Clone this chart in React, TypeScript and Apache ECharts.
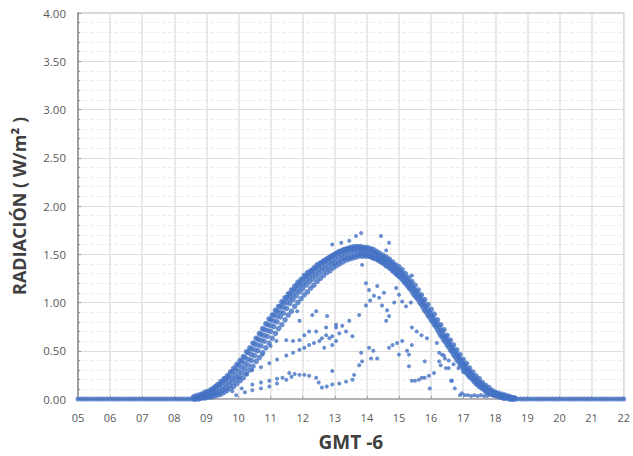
import React, { useEffect, useRef } from "react";
import * as echarts from "echarts";

// ---- Data (hour of day GMT-6, radiation) ----
const xTicks = { min: 5, max: 22, step: 1 };
const yTicks = { min: 0, max: 4, step: 0.5 };

const clearHours = [
  8.6, 8.7, 8.8, 8.9,
  9.0, 9.1, 9.2, 9.3, 9.4, 9.5, 9.6, 9.7, 9.8, 9.9,
  10.0, 10.1, 10.2, 10.3, 10.4, 10.5, 10.6, 10.7, 10.8, 10.9,
  11.0, 11.1, 11.2, 11.3, 11.4, 11.5, 11.6, 11.7, 11.8, 11.9,
  12.0, 12.1, 12.2, 12.3, 12.4, 12.5, 12.6, 12.7, 12.8, 12.9,
  13.0, 13.1, 13.2, 13.3, 13.4, 13.5, 13.6, 13.7, 13.8, 13.9,
  14.0, 14.1, 14.2, 14.3, 14.4, 14.5, 14.6, 14.7, 14.8, 14.9,
  15.0, 15.1, 15.2, 15.3, 15.4, 15.5, 15.6, 15.7, 15.8, 15.9,
  16.0, 16.1, 16.2, 16.3, 16.4, 16.5, 16.6, 16.7, 16.8, 16.9,
  17.0, 17.1, 17.2, 17.3, 17.4, 17.5, 17.6, 17.7, 17.8, 17.9,
  18.0, 18.1, 18.2, 18.3, 18.4, 18.5, 18.6,
];

const clearDayA = [
  0.02, 0.02, 0.03, 0.05,
  0.06, 0.08, 0.10, 0.13, 0.15, 0.18, 0.21, 0.24, 0.28, 0.31,
  0.35, 0.39, 0.43, 0.48, 0.52, 0.57, 0.62, 0.67, 0.72, 0.77,
  0.82, 0.87, 0.91, 0.96, 1.00, 1.05, 1.09, 1.13, 1.17, 1.20,
  1.24, 1.27, 1.30, 1.33, 1.36, 1.39, 1.41, 1.44, 1.46, 1.48,
  1.50, 1.52, 1.53, 1.55, 1.56, 1.57, 1.58, 1.58, 1.58, 1.57,
  1.57, 1.56, 1.55, 1.53, 1.51, 1.49, 1.47, 1.45, 1.42, 1.39,
  1.37, 1.34, 1.30, 1.26, 1.22, 1.18, 1.13, 1.08, 1.03, 0.98,
  0.93, 0.88, 0.82, 0.77, 0.72, 0.66, 0.61, 0.56, 0.51, 0.46,
  0.41, 0.37, 0.32, 0.28, 0.24, 0.21, 0.17, 0.14, 0.12, 0.09,
  0.07, 0.06, 0.05, 0.04, 0.03, 0.02, 0.01,
];

const clearDayB = [
  0.01, 0.01, 0.02, 0.03,
  0.04, 0.05, 0.07, 0.09, 0.11, 0.13, 0.16, 0.19, 0.22, 0.25,
  0.29, 0.33, 0.37, 0.41, 0.46, 0.51, 0.56, 0.61, 0.66, 0.71,
  0.76, 0.81, 0.86, 0.90, 0.95, 1.00, 1.04, 1.08, 1.12, 1.16,
  1.19, 1.23, 1.26, 1.29, 1.32, 1.35, 1.37, 1.40, 1.42, 1.44,
  1.46, 1.48, 1.49, 1.51, 1.52, 1.53, 1.54, 1.54, 1.54, 1.54,
  1.53, 1.52, 1.51, 1.49, 1.47, 1.45, 1.43, 1.41, 1.38, 1.35,
  1.32, 1.29, 1.25, 1.21, 1.17, 1.12, 1.08, 1.03, 0.97, 0.92,
  0.87, 0.82, 0.77, 0.71, 0.66, 0.61, 0.56, 0.51, 0.46, 0.41,
  0.36, 0.32, 0.28, 0.24, 0.20, 0.17, 0.14, 0.11, 0.09, 0.07,
  0.06, 0.04, 0.03, 0.03, 0.02, 0.01, 0.01,
];

const clearDayC = [
  0.00, 0.01, 0.01, 0.02,
  0.02, 0.03, 0.04, 0.06, 0.07, 0.09, 0.11, 0.14, 0.17, 0.20,
  0.23, 0.27, 0.31, 0.35, 0.40, 0.45, 0.50, 0.55, 0.60, 0.65,
  0.70, 0.75, 0.80, 0.85, 0.89, 0.94, 0.99, 1.03, 1.07, 1.11,
  1.14, 1.18, 1.21, 1.24, 1.27, 1.30, 1.33, 1.35, 1.37, 1.40,
  1.41, 1.43, 1.45, 1.46, 1.47, 1.48, 1.49, 1.50, 1.50, 1.50,
  1.49, 1.48, 1.46, 1.45, 1.43, 1.41, 1.38, 1.36, 1.33, 1.30,
  1.27, 1.24, 1.20, 1.16, 1.12, 1.07, 1.03, 0.98, 0.92, 0.87,
  0.82, 0.77, 0.72, 0.66, 0.61, 0.56, 0.51, 0.46, 0.41, 0.36,
  0.31, 0.27, 0.23, 0.20, 0.16, 0.13, 0.11, 0.08, 0.06, 0.05,
  0.04, 0.03, 0.02, 0.01, 0.01, 0.00, 0.00,
];

// second set of clear days, sampled between the first set's times
const clearHoursHalf = [
  8.65, 8.75, 8.85, 8.95,
  9.05, 9.15, 9.25, 9.35, 9.45, 9.55, 9.65, 9.75, 9.85, 9.95,
  10.05, 10.15, 10.25, 10.35, 10.45, 10.55, 10.65, 10.75, 10.85, 10.95,
  11.05, 11.15, 11.25, 11.35, 11.45, 11.55, 11.65, 11.75, 11.85, 11.95,
  12.05, 12.15, 12.25, 12.35, 12.45, 12.55, 12.65, 12.75, 12.85, 12.95,
  13.05, 13.15, 13.25, 13.35, 13.45, 13.55, 13.65, 13.75, 13.85, 13.95,
  14.05, 14.15, 14.25, 14.35, 14.45, 14.55, 14.65, 14.75, 14.85, 14.95,
  15.05, 15.15, 15.25, 15.35, 15.45, 15.55, 15.65, 15.75, 15.85, 15.95,
  16.05, 16.15, 16.25, 16.35, 16.45, 16.55, 16.65, 16.75, 16.85, 16.95,
  17.05, 17.15, 17.25, 17.35, 17.45, 17.55, 17.65, 17.75, 17.85, 17.95,
  18.05, 18.15, 18.25, 18.35, 18.45, 18.55,
];

const clearDayD = [
  0.03, 0.04, 0.05, 0.07,
  0.08, 0.10, 0.12, 0.15, 0.18, 0.21, 0.24, 0.28, 0.32, 0.36,
  0.40, 0.44, 0.49, 0.53, 0.58, 0.63, 0.68, 0.73, 0.78, 0.83,
  0.87, 0.92, 0.96, 1.01, 1.05, 1.09, 1.13, 1.17, 1.21, 1.24,
  1.28, 1.31, 1.33, 1.36, 1.39, 1.41, 1.43, 1.45, 1.47, 1.49,
  1.51, 1.53, 1.54, 1.55, 1.56, 1.56, 1.57, 1.57, 1.56, 1.56,
  1.55, 1.54, 1.52, 1.50, 1.48, 1.46, 1.44, 1.41, 1.38, 1.35,
  1.32, 1.28, 1.24, 1.20, 1.15, 1.11, 1.06, 1.01, 0.96, 0.90,
  0.85, 0.80, 0.75, 0.70, 0.64, 0.59, 0.54, 0.49, 0.44, 0.39,
  0.35, 0.30, 0.26, 0.22, 0.19, 0.16, 0.13, 0.10, 0.08, 0.06,
  0.05, 0.04, 0.03, 0.02, 0.01, 0.01,
];

const clearDayE = [
  0.00, 0.00, 0.01, 0.01,
  0.02, 0.02, 0.03, 0.04, 0.05, 0.07, 0.09, 0.11, 0.13, 0.16,
  0.19, 0.22, 0.26, 0.30, 0.34, 0.39, 0.43, 0.48, 0.53, 0.58,
  0.63, 0.68, 0.73, 0.77, 0.82, 0.87, 0.91, 0.96, 1.00, 1.04,
  1.08, 1.11, 1.15, 1.18, 1.22, 1.25, 1.28, 1.31, 1.33, 1.36,
  1.38, 1.40, 1.42, 1.44, 1.45, 1.46, 1.47, 1.48, 1.48, 1.48,
  1.48, 1.47, 1.46, 1.44, 1.42, 1.40, 1.38, 1.35, 1.32, 1.29,
  1.26, 1.22, 1.18, 1.14, 1.09, 1.05, 1.00, 0.95, 0.90, 0.85,
  0.80, 0.75, 0.69, 0.64, 0.59, 0.54, 0.49, 0.44, 0.39, 0.34,
  0.30, 0.26, 0.22, 0.18, 0.15, 0.12, 0.10, 0.07, 0.05, 0.04,
  0.03, 0.02, 0.01, 0.01, 0.00, 0.00,
];

const nightHours = [
  5.0, 5.1, 5.2, 5.3, 5.4, 5.5, 5.6, 5.7, 5.8, 5.9,
  6.0, 6.1, 6.2, 6.3, 6.4, 6.5, 6.6, 6.7, 6.8, 6.9,
  7.0, 7.1, 7.2, 7.3, 7.4, 7.5, 7.6, 7.7, 7.8, 7.9,
  8.0, 8.1, 8.2, 8.3, 8.4, 8.5,
  18.7, 18.8, 18.9,
  19.0, 19.1, 19.2, 19.3, 19.4, 19.5, 19.6, 19.7, 19.8, 19.9,
  20.0, 20.1, 20.2, 20.3, 20.4, 20.5, 20.6, 20.7, 20.8, 20.9,
  21.0, 21.1, 21.2, 21.3, 21.4, 21.5, 21.6, 21.7, 21.8, 21.9,
  22.0,
];
const nightValue = 0;

const cloudyLowA = [
  [9.81, 0.08], [10.1, 0.11], [10.43, 0.15], [10.7, 0.17], [10.96, 0.19],
  [11.2, 0.21], [11.37, 0.22], [11.58, 0.27], [11.75, 0.26], [11.9, 0.25],
  [12.05, 0.25], [12.2, 0.24], [12.42, 0.22], [12.5, 0.17], [12.6, 0.12],
  [12.75, 0.13], [12.92, 0.15], [13.14, 0.16], [13.35, 0.18], [13.55, 0.2],
  [13.6, 0.25],
];
const cloudyLowB = [
  [9.93, 0.04], [10.2, 0.07], [10.43, 0.09], [10.7, 0.11], [10.96, 0.13],
  [11.2, 0.16], [11.49, 0.2], [11.65, 0.23], [12.92, 0.29],
];
const cloudyMid = [
  [10.03, 0.22], [10.25, 0.26], [10.43, 0.3], [10.7, 0.33], [10.96, 0.37],
  [11.2, 0.41], [11.49, 0.45], [11.7, 0.48], [11.9, 0.51], [12.05, 0.53],
  [12.2, 0.56], [12.35, 0.58], [12.52, 0.6], [12.67, 0.53], [12.83, 0.63],
  [12.92, 0.56], [13.04, 0.6],
];
const cloudyUpperNoon = [
  [10.75, 0.46], [11.0, 0.55], [11.18, 0.6], [11.49, 0.61], [11.7, 0.6],
  [11.9, 0.61], [12.05, 0.66], [12.2, 0.7], [12.42, 0.7], [12.6, 0.63],
  [12.73, 0.66], [12.92, 0.65], [13.04, 0.77], [13.14, 0.68], [13.23, 0.76],
  [13.35, 0.7], [13.55, 0.65], [13.45, 0.81], [13.76, 0.87], [12.76, 0.86],
  [12.73, 0.74], [13.04, 0.74], [11.83, 0.91], [11.9, 0.81], [12.42, 0.91],
  [12.3, 0.87],
];
const aboveEnvelope = [
  [12.92, 1.6], [13.2, 1.62], [13.45, 1.64], [13.66, 1.69], [13.82, 1.72],
  [14.44, 1.69], [14.69, 1.62], [14.6, 1.54], [13.85, 1.39], [15.4, 1.28],
];
const cloudyAfternoon = [
  [13.97, 1.2], [14.32, 1.17], [14.07, 1.13], [14.22, 1.07], [14.38, 1.05],
  [13.97, 0.97], [14.47, 0.97], [14.63, 0.92], [14.69, 0.86], [14.6, 0.81],
  [14.91, 1.15], [15.0, 1.08], [15.1, 1.01], [15.22, 0.96], [14.85, 1.0],
  [15.37, 1.0], [14.53, 1.1], [14.1, 1.02],
  [14.07, 0.53], [14.13, 0.42], [13.85, 0.39], [14.32, 0.42], [13.82, 0.48],
  [13.76, 0.35], [14.2, 0.5],
  [14.69, 0.53], [14.94, 0.58], [15.1, 0.6], [15.25, 0.5], [15.0, 0.46], [14.8, 0.56],
];
const cloudyLate = [
  [15.4, 0.74], [15.55, 0.7], [15.7, 0.66], [15.87, 0.63], [16.18, 0.58],
  [15.4, 0.56], [15.31, 0.46], [15.8, 0.39], [15.31, 0.34], [15.4, 0.19],
  [15.5, 0.19], [15.62, 0.2], [15.71, 0.22], [15.8, 0.22], [15.93, 0.24],
  [16.09, 0.27], [15.96, 0.11], [16.25, 0.39], [16.34, 0.46], [16.43, 0.42],
  [16.3, 0.35], [16.46, 0.32], [16.55, 0.32], [16.62, 0.19], [16.65, 0.19],
  [16.74, 0.11], [16.9, 0.04], [16.96, 0.06], [17.05, 0.04], [17.15, 0.04],
  [17.25, 0.03], [17.35, 0.04], [17.45, 0.03], [17.55, 0.04], [17.65, 0.03],
  [17.75, 0.03],
  [16.25, 0.48], [16.4, 0.45], [16.55, 0.4], [16.7, 0.36], [16.85, 0.32],
  [17.0, 0.28], [17.15, 0.24],
];

const POINT_COLOR = "#4472C4";

export default function App() {
  const ref = useRef<HTMLDivElement>(null);

  useEffect(() => {
    if (!ref.current) return;
    const chart = echarts.init(ref.current, null, { renderer: "svg" });

    const clearData: number[][] = [];
    [clearDayA, clearDayB, clearDayC].forEach((day) => {
      clearHours.forEach((h, i) => clearData.push([h, day[i]]));
    });
    [clearDayD, clearDayE].forEach((day) => {
      clearHoursHalf.forEach((h, i) => clearData.push([h, day[i]]));
    });
    const nightData = nightHours.map((h) => [h, nightValue]);
    const scatterData = [
      ...cloudyLowA,
      ...cloudyLowB,
      ...cloudyMid,
      ...cloudyUpperNoon,
      ...aboveEnvelope,
      ...cloudyAfternoon,
      ...cloudyLate,
    ];

    const font = "'Open Sans', 'Liberation Sans', sans-serif";

    chart.setOption({
      animation: false,
      backgroundColor: "#ffffff",
      grid: {
        left: 78,
        right: 8,
        top: 13,
        bottom: 55,
        show: true,
        borderColor: "#c8c8c8",
        borderWidth: 1.5,
      },
      xAxis: {
        type: "value",
        min: xTicks.min,
        max: xTicks.max,
        interval: xTicks.step,
        name: "GMT -6",
        nameLocation: "middle",
        nameGap: 33,
        nameTextStyle: {
          fontFamily: font,
          fontWeight: "bold",
          fontSize: 19,
          color: "#404040",
        },
        axisLine: { show: true, lineStyle: { color: "#a6a6a6", width: 1.5 } },
        axisTick: { show: true, inside: true, length: 3, lineStyle: { color: "#a6a6a6" } },
        axisLabel: {
          color: "#595959",
          fontFamily: font,
          fontSize: 11,
          margin: 13,
          formatter: (v: number) => String(Math.round(v)).padStart(2, "0"),
        },
        splitLine: { show: true, lineStyle: { color: "#e2e2e2", width: 1.5 } },
      },
      yAxis: {
        type: "value",
        min: yTicks.min,
        max: yTicks.max,
        interval: yTicks.step,
        name: "RADIACIÓN ( W/m² )",
        nameLocation: "middle",
        nameGap: 50,
        nameRotate: 90,
        nameTextStyle: {
          fontFamily: font,
          fontWeight: "bold",
          fontSize: 18,
          color: "#404040",
        },
        axisLine: { show: true, lineStyle: { color: "#8c8c8c", width: 1.5 } },
        axisTick: { show: true, inside: true, length: 3, lineStyle: { color: "#8c8c8c" } },
        minorTick: { show: true, splitNumber: 5, length: 2, lineStyle: { color: "#8c8c8c" } },
        axisLabel: {
          color: "#595959",
          fontFamily: font,
          fontSize: 11.5,
          margin: 12,
          formatter: (v: number) => v.toFixed(2),
        },
        splitLine: { show: true, lineStyle: { color: "#dcdcdc", width: 1 } },
        minorSplitLine: { show: true, lineStyle: { color: "#ececec", width: 1, type: "dashed" } },
      },
      series: [
        {
          type: "scatter",
          data: nightData,
          symbol: "circle",
          symbolSize: 5,
          itemStyle: { color: POINT_COLOR },
        },
        {
          type: "scatter",
          data: clearData,
          symbol: "circle",
          symbolSize: 5.5,
          itemStyle: { color: POINT_COLOR },
        },
        {
          type: "scatter",
          data: scatterData,
          symbol: "circle",
          symbolSize: 4,
          itemStyle: { color: POINT_COLOR },
        },
      ],
    });

    return () => chart.dispose();
  }, []);

  return (
    <div
      ref={ref}
      style={{ position: "fixed", left: 0, top: 0, width: 633, height: 456, background: "#fff" }}
    />
  );
}
